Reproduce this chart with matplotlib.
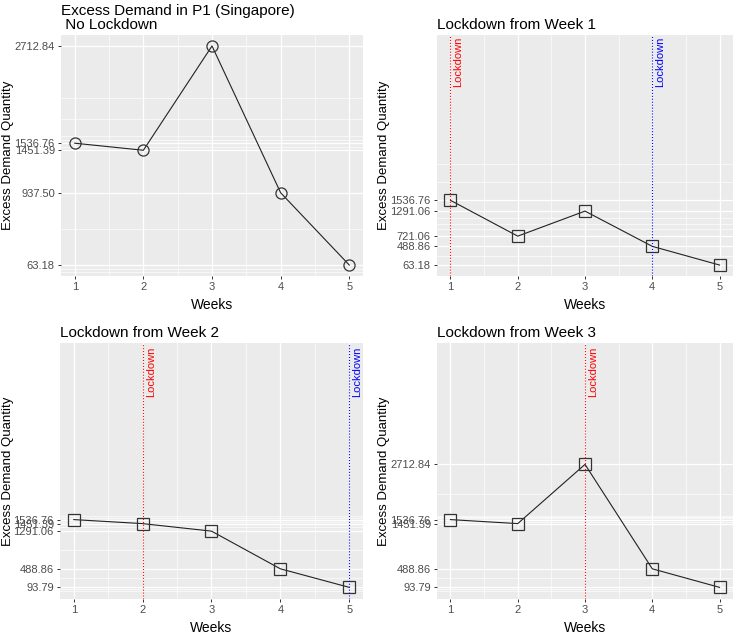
import matplotlib
matplotlib.use("Agg")
import matplotlib.pyplot as plt

plt.rcParams['font.family'] = ['Liberation Sans', 'DejaVu Sans']

weeks = [1, 2, 3, 4, 5]
no_lockdown = [1536.76, 1451.39, 2712.84, 937.50, 63.18]
lockdown_w1 = [1536.76, 721.06, 1291.06, 488.86, 63.18]
lockdown_w2 = [1536.76, 1451.39, 1291.06, 488.86, 93.79]
lockdown_w3 = [1536.76, 1451.39, 2712.84, 488.86, 93.79]

titles = ["Excess Demand in P1 (Singapore)\n No Lockdown",
          "Lockdown from Week 1", "Lockdown from Week 2", "Lockdown from Week 3"]
series = [no_lockdown, lockdown_w1, lockdown_w2, lockdown_w3]
lock_start = [None, 1, 2, 3]
lock_end = [None, 4, 5, 6]
label_top = 5050      # the rotated "Lockdown" labels stretch the y scale up to here
label_y = 4680

W, H = 740, 632
# panel boxes in pixels: left, right, top, bottom
boxes = [(61, 363, 35, 276), (437, 733, 35, 276),
         (60, 363, 343, 599), (437, 733, 343, 599)]
ylab_x = [8, 384, 8, 384]


def gg_minor(b, lo, hi):
    # ggplot2 regular_minor_breaks applied to the breaks in their given order
    bd = b[1] - b[0]
    b = list(b)
    if lo < min(b):
        b = [b[0] - bd] + b
    if hi > max(b):
        b = b + [b[-1] + bd]
    out = []
    for a, c in zip(b[:-1], b[1:]):
        out += [a, (a + c) / 2]
    out.append(b[-1])
    return [v for v in out if lo <= v <= hi]


fig = plt.figure(figsize=(W / 100, H / 100), dpi=100)

for i, vals in enumerate(series):
    l, r, t, b = boxes[i]
    ax = fig.add_axes([l / W, 1 - b / H, (r - l) / W, (b - t) / H])
    ax.set_facecolor('#EBEBEB')
    for s in ax.spines.values():
        s.set_visible(False)

    top = max(vals) if lock_start[i] is None else label_top
    lo_d = min(vals)
    pad = 0.05 * (top - lo_d)
    lo, hi = lo_d - pad, top + pad
    ax.set_ylim(lo, hi)
    ax.set_xlim(0.8, 5.2)

    ax.set_yticks(vals)
    ax.set_yticklabels([f"{v:.2f}" for v in vals])
    ax.set_yticks(gg_minor(vals, lo, hi), minor=True)
    ax.set_xticks(weeks)
    ax.set_xticks([1.5, 2.5, 3.5, 4.5], minor=True)
    ax.tick_params(which='major', length=2.5, width=0.7, color='#333333',
                   labelsize=8, labelcolor='#4D4D4D', pad=2)
    ax.tick_params(which='minor', length=0)
    ax.grid(which='major', color='white', lw=0.9)
    ax.grid(which='minor', color='white', lw=0.45)
    ax.set_axisbelow(True)

    marker = 'o' if i == 0 else 's'
    ax.plot(weeks, vals, color='#222222', lw=0.8, marker=marker, ms=8,
            mfc='none', mec='#333333', mew=0.9)

    if lock_start[i] is not None:
        for x, col in [(lock_start[i], 'red'), (lock_end[i], 'blue')]:
            if x <= 5:
                ax.axvline(x, color=col, ls=':', lw=0.8)
                ax.text(x + 0.12, label_y, 'Lockdown', rotation=90, color=col,
                        fontsize=8, ha='center', va='center')

    ax.set_title(titles[i], loc='left', fontsize=11, pad=4, linespacing=1.0)
    ax.set_xlabel('Weeks', fontsize=10, labelpad=4)
    fig.text(ylab_x[i] / W, 1 - ((t + b) / 2) / H, 'Excess Demand Quantity',
             rotation=90, ha='center', va='center', fontsize=9.5)

plt.savefig('out.png', dpi=100)
